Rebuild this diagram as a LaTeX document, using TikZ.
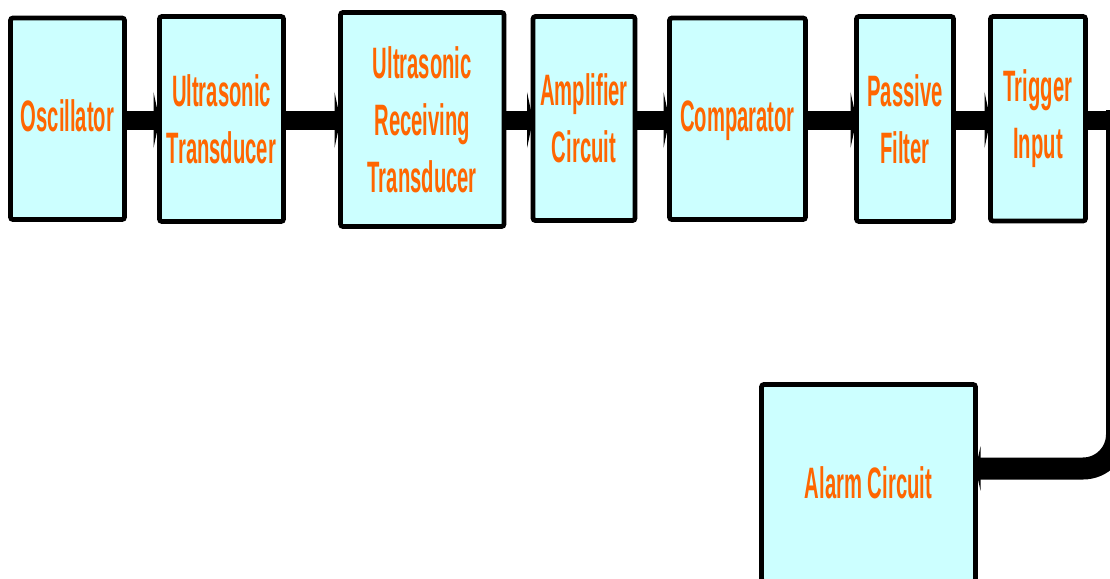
\documentclass[tikz,border=0pt]{standalone}
\usepackage{fontspec}
\setmainfont{Liberation Sans}[FakeStretch=0.46]
\usetikzlibrary{arrows.meta}
\definecolor{boxfill}{HTML}{CCFFFF}
\definecolor{txtorange}{HTML}{FF6600}
\begin{document}
\begin{tikzpicture}[x=1pt,y=-1pt,
  blk/.style={draw=black, line width=4.8pt, fill=boxfill, rounded corners=2.5pt,
    text=txtorange, align=center, inner sep=0pt, outer sep=0pt,
    font=\bfseries\fontsize{44}{57}\selectfont},
  conn/.style={line width=19pt, -{Triangle[length=6pt,width=56pt]}},
  conn2/.style={line width=22pt, rounded corners=34pt, -{Triangle[length=5pt,width=44pt]}}]
\useasboundingbox (0,0) rectangle (1110,578);
\node[blk, minimum width=114pt, minimum height=201.5pt, text depth=6pt] (osc) at (67.5,118.75) {Oscillator};
\node[blk, minimum width=124pt, minimum height=205pt] (ut) at (221.5,119) {Ultrasonic\\Transducer};
\node[blk, minimum width=163.5pt, minimum height=214pt] (urt) at (422.25,119.5) {Ultrasonic\\Receiving\\Transducer};
\node[blk, minimum width=102pt, minimum height=204pt] (amp) at (584,118.5) {Amplifier\\Circuit};
\node[blk, minimum width=136pt, minimum height=201.5pt, text depth=5pt] (cmp) at (737.5,118.75) {Comparator};
\node[blk, minimum width=97pt, minimum height=205pt] (pf) at (905,119) {Passive\\Filter};
\node[blk, minimum width=95pt, minimum height=204.5pt] (ti) at (1038,118.75) {Trigger\\Input};
\node[blk, minimum width=214pt, minimum height=197pt] (alarm) at (868.5,483) {Alarm Circuit};
\coordinate (row) at (0,120);
\coordinate (turn) at (1117,120);
\coordinate (low) at (1117,468.5);
\draw[conn] (osc.east |- row) -- (ut.west |- row);
\draw[conn] (ut.east |- row) -- (urt.west |- row);
\draw[conn] (urt.east |- row) -- (amp.west |- row);
\draw[conn] (amp.east |- row) -- (cmp.west |- row);
\draw[conn] (cmp.east |- row) -- (pf.west |- row);
\draw[conn] (pf.east |- row) -- (ti.west |- row);
\draw[line width=19pt] (ti.east |- row) -- (turn);
\draw[conn2] (1117,110) -- (low) -- (alarm.east |- low);
\end{tikzpicture}
\end{document}
